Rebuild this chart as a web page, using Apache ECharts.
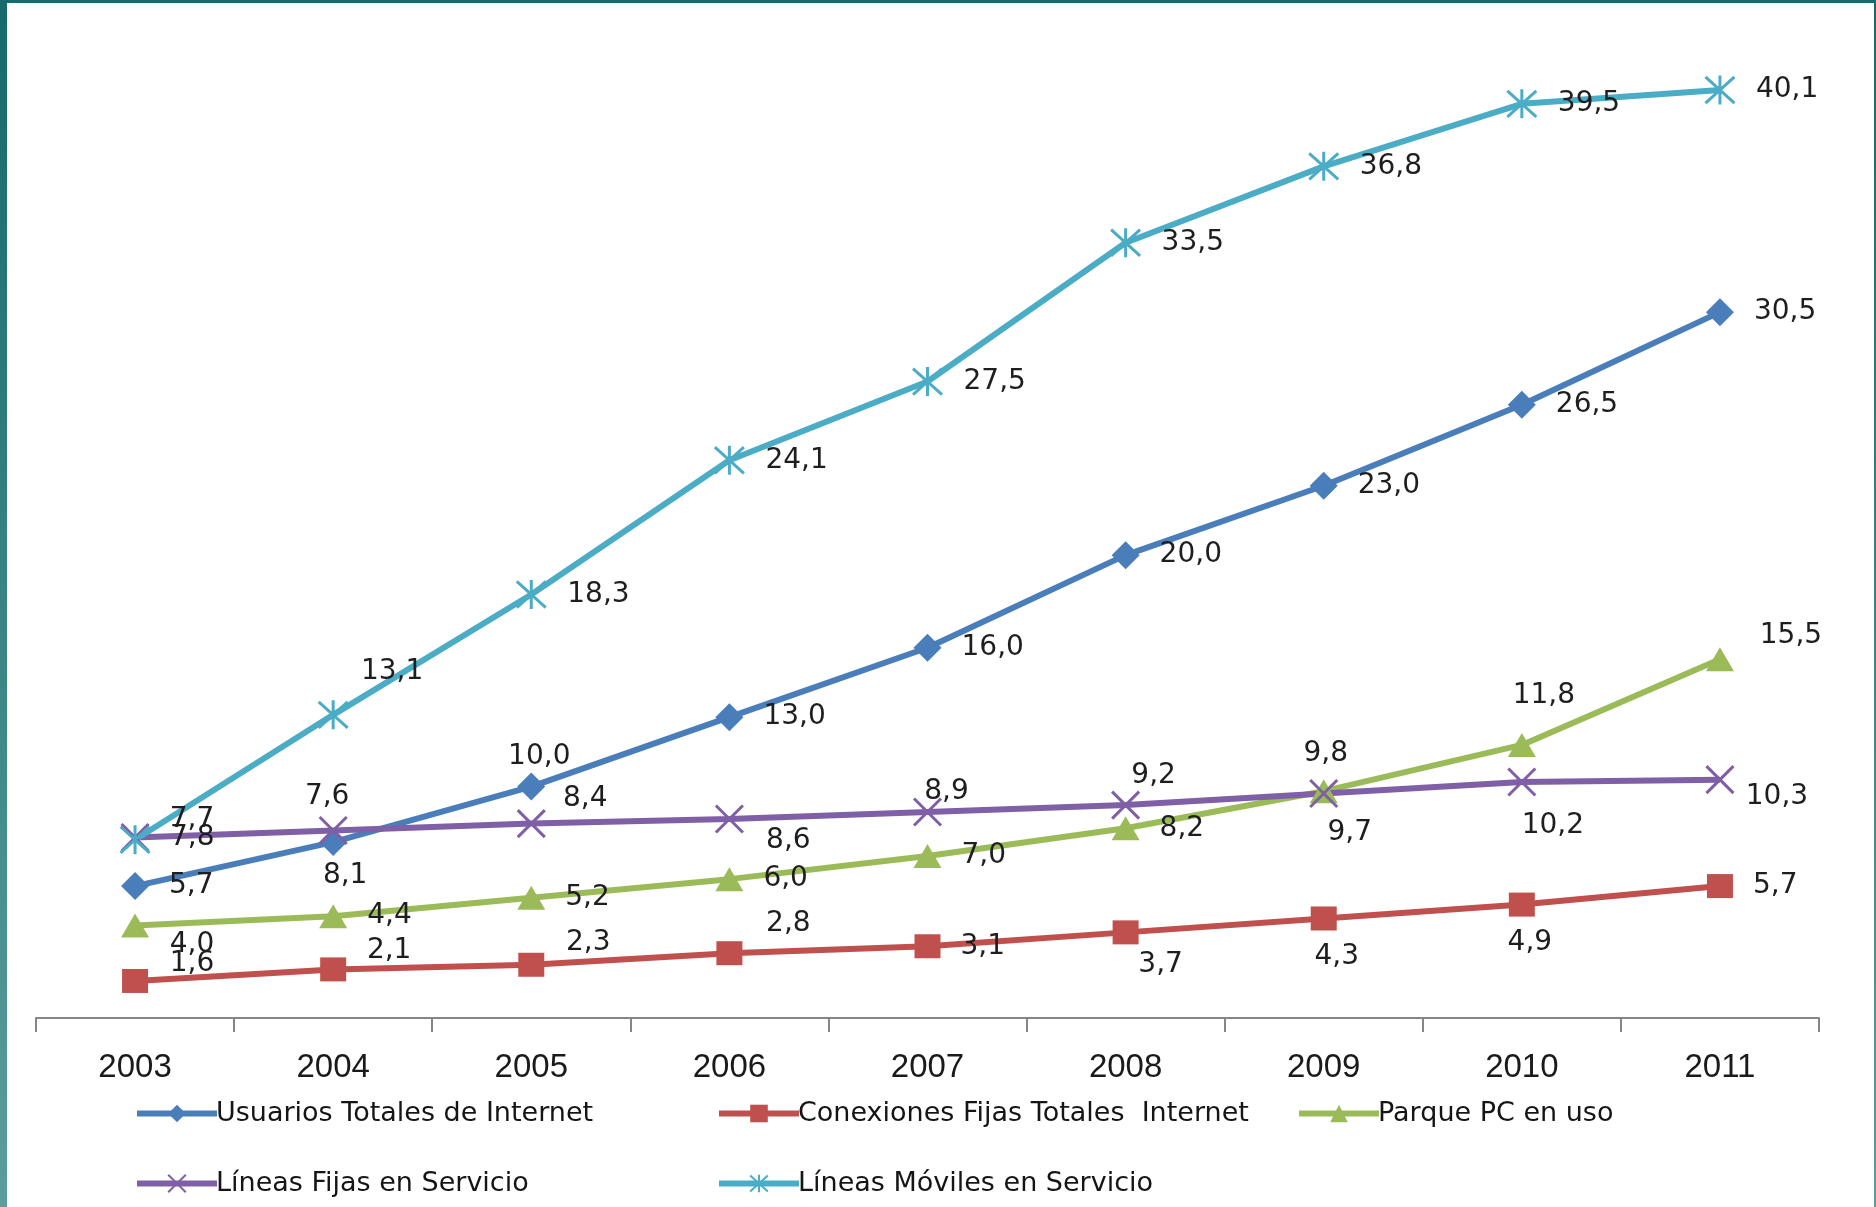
<!DOCTYPE html>
<html>
<head>
<meta charset="utf-8">
<style>
  html, body { margin: 0; padding: 0; background: #fff; }
  #wrap { position: relative; width: 1876px; height: 1207px; overflow: hidden; }
  #chart { position: absolute; left: 0; top: 0; width: 1876px; height: 1207px; }
  .bar-left { position: absolute; left: 0; top: 0; width: 7px; height: 1207px;
    background: linear-gradient(#17696b, #5b9d9c); }
  .bar-top { position: absolute; left: 0; top: 0; width: 1876px; height: 3px; background: #17696b; }
  .bar-right { position: absolute; right: 0; top: 0; width: 2px; height: 1207px;
    background: linear-gradient(#17696b, #5b9d9c); }
</style>
<script src="https://cdn.jsdelivr.net/npm/echarts@6/dist/echarts.min.js"></script>
</head>
<body>
<div id="wrap">
  <div id="chart"></div>
  <div class="bar-left"></div>
  <div class="bar-top"></div>
  <div class="bar-right"></div>
</div>
<script>
const years = ["2003", "2004", "2005", "2006", "2007", "2008", "2009", "2010", "2011"]

const usuariosInternet = [5.7, 7.6, 10.0, 13.0, 16.0, 20.0, 23.0, 26.5, 30.5]
const conexionesFijas = [1.6, 2.1, 2.3, 2.8, 3.1, 3.7, 4.3, 4.9, 5.7]
const parquePC = [4.0, 4.4, 5.2, 6.0, 7.0, 8.2, 9.8, 11.8, 15.5]
const lineasFijas = [7.8, 8.1, 8.4, 8.6, 8.9, 9.2, 9.7, 10.2, 10.3]
const lineasMoviles = [7.7, 13.1, 18.3, 24.1, 27.5, 33.5, 36.8, 39.5, 40.1]

const seriesNames = [
  "Usuarios Totales de Internet",
  "Conexiones Fijas Totales  Internet",
  "Parque PC en uso",
  "Líneas Fijas en Servicio",
  "Líneas Móviles en Servicio"
]

// labels that are not simply to the right of the point: [index, dx, dy]
const labelMoves = {
  0: [[1, -6, -45], [2, 8, -30]],
  1: [[0, 57, -17], [1, 56, -19], [2, 57, -22], [3, 59, -29], [5, 35, 32], [6, 13, 38], [7, 8, 38]],
  2: [[0, 57, 19], [6, 2, -37], [7, 22, -49], [8, 71, -24]],
  3: [[1, 12, 45], [2, 54, -25], [3, 59, 22], [4, 19, -20], [5, 28, -29], [6, 26, 39], [7, 31, 44], [8, 57, 17]],
  4: [[0, 57, -20], [1, 59, -43]]
}

const fmt = v => v.toFixed(1).replace(".", ",")
const labelFont = { fontFamily: "DejaVu Sans", fontSize: 28, color: "#1e1e1e" }

function buildData(values, idx) {
  return values.map((v, i) => {
    const mv = (labelMoves[idx] || []).find(m => m[0] === i)
    if (!mv) return v
    return { value: v, label: { position: "inside", offset: [mv[1], mv[2]], distance: 0 } }
  })
}

const crossPath = "path://M0,0L20,20M20,0L0,20"
const starPath = "path://M1,1L19,19M19,1L1,19M10,0L10,20"

const styles = [
  { color: "#4a7ebb", symbol: "diamond", size: 28, stroke: 0 },
  { color: "#c0504d", symbol: "rect", size: [26, 24], stroke: 0 },
  { color: "#9bbb59", symbol: "triangle", size: [28, 24], stroke: 0 },
  { color: "#7f5fa5", symbol: crossPath, size: 27, stroke: 3 },
  { color: "#4bacc6", symbol: starPath, size: 29, stroke: 3 }
]
const allValues = [usuariosInternet, conexionesFijas, parquePC, lineasFijas, lineasMoviles]

let chart = echarts.init(document.getElementById("chart"), null, { renderer: "canvas" })

const legendPos = [
  { left: 129, top: 1095 },
  { left: 711, top: 1095 },
  { left: 1291, top: 1095 },
  { left: 129, top: 1165 },
  { left: 711, top: 1165 }
]

let option = {
  backgroundColor: "#fff",
  animation: false,
  grid: { left: 36, right: 57, top: 46, bottom: 189, containLabel: false },
  legend: legendPos.map((p, i) => ({
    data: [seriesNames[i]],
    left: p.left,
    top: p.top,
    itemWidth: 80,
    itemHeight: 22,
    itemGap: 4,
    lineStyle: { width: 6 },
    textStyle: { fontFamily: "DejaVu Sans", fontSize: 27, color: "#151515", padding: [0, 0, 0, -6] }
  })),
  xAxis: {
    type: "category",
    data: years,
    boundaryGap: true,
    axisLine: { lineStyle: { color: "#868686", width: 2 } },
    axisTick: { show: true, length: 14, inside: false, lineStyle: { color: "#868686", width: 2 } },
    axisLabel: { fontFamily: "Liberation Sans", fontSize: 33, color: "#1a1a1a", margin: 33 }
  },
  yAxis: {
    type: "value",
    min: 0,
    max: 42,
    show: false,
    splitLine: { show: false }
  },
  series: allValues.map((vals, i) => ({
    name: seriesNames[i],
    type: "line",
    data: buildData(vals, i),
    symbol: styles[i].symbol,
    symbolSize: styles[i].size,
    lineStyle: { color: styles[i].color, width: 6 },
    itemStyle: {
      color: styles[i].color,
      borderColor: styles[i].color,
      borderWidth: styles[i].stroke
    },
    label: Object.assign({ show: true, position: "right", distance: 20, formatter: p => fmt(p.value) }, labelFont),
    emphasis: { disabled: true }
  }))
}

chart.setOption(option)
</script>
</body>
</html>
